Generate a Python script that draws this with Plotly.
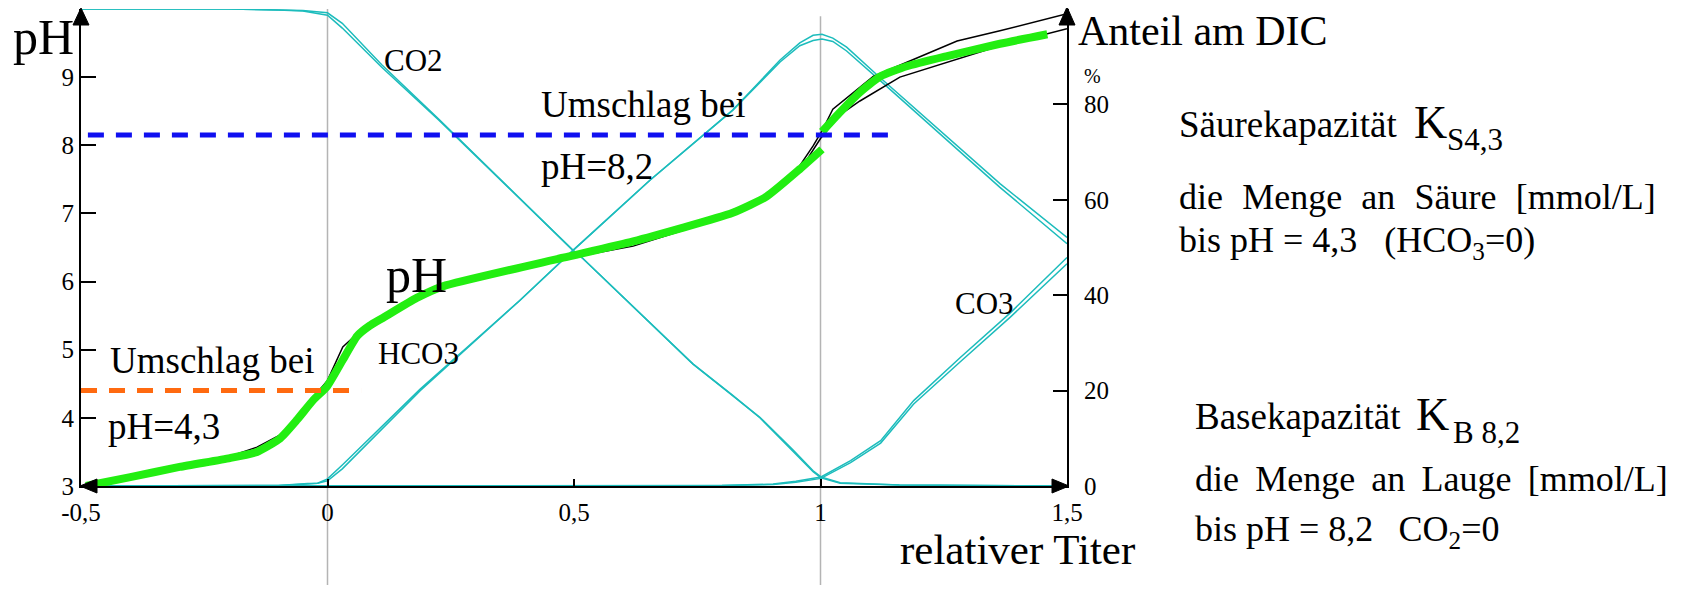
import plotly.graph_objects as go

# ---------------- data ----------------
# relative titer (x) and pH
tau_ph_green1 = [-0.49, -0.40, -0.30, -0.198, -0.143, -0.096, -0.062, -0.029, -0.001, 0.031, 0.06, 0.085, 0.113, 0.181, 0.234, 0.478, 0.62, 0.822, 0.891, 0.958, 1.003]
ph_green1 = [3.0, 3.13, 3.28, 3.41, 3.50, 3.70, 3.97, 4.26, 4.46, 4.85, 5.20, 5.35, 5.47, 5.76, 5.93, 6.35, 6.59, 7.01, 7.25, 7.65, 7.94]
tau_ph_green2 = [1.003, 1.04, 1.08, 1.121, 1.175, 1.257, 1.364, 1.46]
ph_green2 = [8.20, 8.49, 8.78, 9.01, 9.16, 9.31, 9.49, 9.63]

tau_ph_black1 = [-0.5, -0.4, -0.3, -0.2, -0.143, -0.096, -0.06, -0.029, 0.0, 0.031, 0.07, 0.12, 0.18, 0.283, 0.478, 0.62, 0.822, 0.898, 0.944, 0.985, 1.003, 1.025, 1.107, 1.277, 1.364, 1.5]
ph_black1 = [3.0, 3.14, 3.28, 3.43, 3.57, 3.75, 4.0, 4.3, 4.55, 5.04, 5.3, 5.5, 5.76, 6.03, 6.33, 6.52, 6.98, 7.25, 7.55, 7.99, 8.21, 8.53, 9.01, 9.53, 9.68, 9.93]
tau_ph_black2 = [0.96, 1.0, 1.04, 1.08, 1.161, 1.277, 1.364, 1.5]
ph_black2 = [7.65, 8.10, 8.45, 8.65, 9.0, 9.26, 9.46, 9.71]

# DIC species, percent
tau_co2 = [-0.5, -0.2, -0.1, -0.05, 0.0, 0.03, 0.11, 0.226, 0.498, 0.518, 0.741, 0.822, 0.877, 0.944, 0.985, 1.001, 1.04, 1.16, 1.5]
co2_a = [100, 100, 99.8, 99.6, 98.7, 96.0, 87.8, 76.7, 49.4, 47.7, 25.6, 19.0, 14.3, 7.4, 3.0, 1.7, 0.6, 0.2, 0.0]
co2_b = [100, 100, 99.8, 99.7, 99.2, 97.0, 88.3, 76.9, 49.4, 47.7, 25.6, 19.0, 14.4, 7.6, 3.2, 1.9, 0.7, 0.2, 0.0]

tau_hco3 = [-0.5, -0.1, -0.04, -0.02, 0.0, 0.03, 0.188, 0.39, 0.498, 0.654, 0.822, 0.918, 0.958, 0.985, 1.003, 1.025, 1.053, 1.12, 1.364, 1.5]
hco3_a = [0, 0.1, 0.5, 0.6, 1.1, 3.6, 20.0, 38.9, 49.4, 64.1, 78.8, 89.3, 92.9, 94.5, 94.7, 93.9, 92.0, 85.7, 63.4, 52.1]
hco3_b = [0, 0.1, 0.4, 0.6, 1.5, 4.4, 20.3, 38.9, 49.4, 64.1, 78.8, 88.9, 92.3, 93.4, 93.7, 93.2, 91.2, 85.1, 62.6, 50.8]

tau_co3 = [-0.5, 0.5, 0.8, 0.904, 0.95, 1.001, 1.061, 1.122, 1.189, 1.283, 1.385, 1.5]
co3_a = [0, 0, 0.1, 0.4, 1.0, 1.9, 5.3, 9.5, 17.9, 26.9, 36.3, 47.9]
co3_b = [0, 0, 0.1, 0.3, 0.8, 1.6, 4.9, 9.0, 17.2, 26.0, 35.4, 46.6]

# colour change (indicator) pH levels and extents
umschlag_ph = [4.40, 8.15]
umschlag_x = [[-0.5, 0.068], [-0.486, 1.137]]

x_ticks = [-0.5, 0, 0.5, 1, 1.5]
x_ticktext = ["-0,5", "0", "0,5", "1", "1,5"]
ph_ticks = [3, 4, 5, 6, 7, 8, 9]
pct_ticks = [0, 20, 40, 60, 80]

# ---------------- figure ----------------
OFF = 8                      # page body margin of the html page
PAGE_W, PAGE_H = 1682, 593
W, H = PAGE_W - 2 * OFF, PAGE_H - 2 * OFF
# plot area in page pixels
X0, X1, Y0, Y1 = 81, 1067, 9, 486
L, T = X0 - OFF, Y0 - OFF
R, B = W - (X1 - OFF), H - (Y1 - OFF)
PW, PH_ = X1 - X0, Y1 - Y0
FONT = "Liberation Serif"
CYAN = "#1cbcbc"
GREEN = "#22ee11"

fig = go.Figure()

for tx, ya in [(tau_co2, co2_a), (tau_co2, co2_b), (tau_hco3, hco3_a), (tau_hco3, hco3_b), (tau_co3, co3_a), (tau_co3, co3_b)]:
    fig.add_trace(go.Scatter(x=tx, y=ya, mode="lines", line=dict(color=CYAN, width=1.5), yaxis="y", hoverinfo="skip"))

fig.add_trace(go.Scatter(x=tau_ph_black1, y=ph_black1, mode="lines", line=dict(color="black", width=1.5), yaxis="y2"))
fig.add_trace(go.Scatter(x=tau_ph_black2, y=ph_black2, mode="lines", line=dict(color="black", width=1.5), yaxis="y2"))
fig.add_trace(go.Scatter(x=tau_ph_green1, y=ph_green1, mode="lines", line=dict(color=GREEN, width=8, shape="spline", smoothing=0.5), yaxis="y2"))
fig.add_trace(go.Scatter(x=tau_ph_green2, y=ph_green2, mode="lines", line=dict(color=GREEN, width=8, shape="spline", smoothing=0.5), yaxis="y2"))

for (xs, ph, col) in [(umschlag_x[0], umschlag_ph[0], "#ff6a10"), (umschlag_x[1], umschlag_ph[1], "#1010f0")]:
    fig.add_trace(go.Scatter(x=xs, y=[ph, ph], mode="lines", line=dict(color=col, width=5, dash="16px,12px"), yaxis="y2"))

def px(x):
    return (x - X0) / PW

def py(y):
    return (Y1 - y) / PH_

ann = []
def text(s, x, baseline, size, anchor="left"):
    ann.append(dict(text=s, x=px(x), y=py(baseline - 0.3 * size), xref="paper", yref="paper",
                    xanchor=anchor, yanchor="middle", showarrow=False, borderpad=0,
                    font=dict(family=FONT, size=size, color="black")))

NB = "\u00a0"
TH = "\u2009"
HS = "\u200a"
text("pH", 12, 52, 50)
text("Anteil am DIC", 1077, 44, 42)
text("%", 1083, 82, 20)
text("CO2", 383, 70, 31)
text("Umschlag bei", 540, 116, 37)
text("pH=8,2", 540, 178, 37)
text("pH", 385, 290, 50)
text("HCO3", 377, 363, 31)
text("Umschlag bei", 109, 372, 37)
text("pH=4,3", 107, 438, 37)
text("CO3", 954, 313, 31)
text("relativer Titer", 899, 562, 43)
text("Säurekapazität", 1178, 136, 37)
text("K", 1413, 136, 46)
text("S4,3", 1446, 149, 31)
gap1 = NB + TH + HS
text("die" + gap1 + "Menge" + gap1 + "an" + gap1 + "Säure" + gap1 + "[mmol/L]", 1178, 208, 36)
text("bis pH = 4,3" + NB * 3 + "(HCO<sub>3</sub>=0)", 1178, 253, 36)
text("Basekapazität", 1194, 428, 37)
text("K", 1415, 428, 46)
text("B 8,2", 1452, 442, 31)
gap2 = NB + TH
text("die" + gap2 + "Menge" + gap2 + "an" + gap2 + "Lauge" + gap2 + "[mmol/L]", 1194, 490, 36)
text("bis pH = 8,2" + NB * 2 + TH + "CO<sub>2</sub>=0", 1194, 542, 36)

shapes = [
    # grey verticals at titer 0 and 1
    dict(type="line", xref="x", yref="paper", x0=0, x1=0, y0=-0.214, y1=1.0, line=dict(color="#b4b4b4", width=1.5), layer="below"),
    dict(type="line", xref="x", yref="paper", x0=1, x1=1, y0=-0.214, y1=0.985, line=dict(color="#b4b4b4", width=1.5), layer="below"),
]
arrow = dict(type="path", xref="paper", yref="paper", xsizemode="pixel", ysizemode="pixel",
             fillcolor="black", line=dict(color="black", width=1), layer="above")
shapes.append(dict(arrow, xanchor=0, yanchor=1, path="M -8,-16 L 0,1 L 8,-16 Z"))
shapes.append(dict(arrow, xanchor=1, yanchor=1, path="M -8,-16 L 0,2 L 8,-16 Z"))
shapes.append(dict(arrow, xanchor=0, yanchor=0, path="M -1,0 L 16,7 L 16,-7 Z"))
shapes.append(dict(arrow, xanchor=1, yanchor=0, path="M 2,0 L -15,7 L -15,-7 Z"))

tickfont = dict(family=FONT, size=25, color="black")
fig.update_layout(
    width=W, height=H, margin=dict(l=L, r=R, t=T, b=B, autoexpand=False),
    paper_bgcolor="white", plot_bgcolor="white", showlegend=False,
    font=dict(family=FONT, color="black"),
    xaxis=dict(range=[-0.5, 1.5], tickvals=x_ticks, ticktext=x_ticktext, ticks="inside", ticklen=7,
               tickwidth=1.5, tickcolor="black", showline=True, linecolor="black", linewidth=2,
               showgrid=False, zeroline=False, tickfont=tickfont, ticklabelstandoff=3, automargin=False),
    yaxis=dict(range=[0, 100], side="right", tickvals=pct_ticks, ticks="inside", ticklen=14, tickwidth=2,
               tickcolor="black", showline=True, linecolor="black", linewidth=2, showgrid=False,
               zeroline=False, tickfont=tickfont, ticklabelstandoff=10, automargin=False),
    yaxis2=dict(range=[3, 10], overlaying="y", side="left", tickvals=ph_ticks, ticks="inside", ticklen=15,
                tickwidth=2, tickcolor="black", showline=True, linecolor="black", linewidth=2,
                showgrid=False, zeroline=False, tickfont=tickfont, ticklabelstandoff=0, automargin=False),
    annotations=ann, shapes=shapes,
)

fig.write_html("out.html")
